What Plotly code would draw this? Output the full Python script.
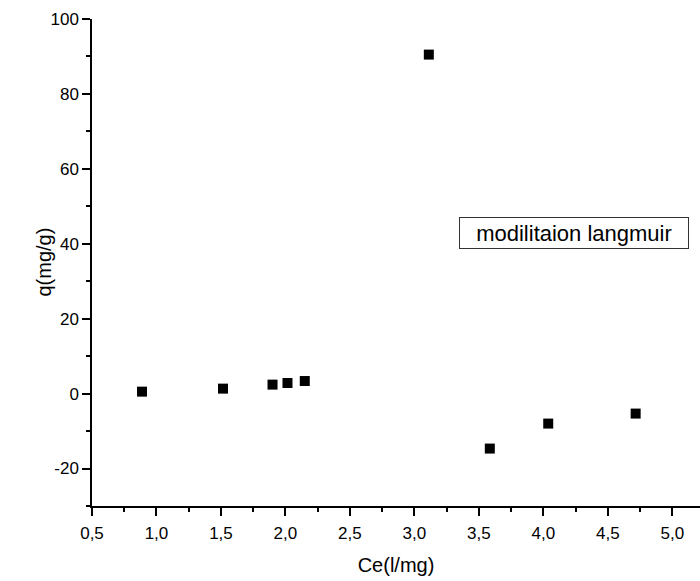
import plotly.graph_objects as go

# Langmuir data: equilibrium concentration vs adsorbed quantity
ce = [0.888, 1.516, 1.900, 2.016, 2.150, 3.112, 3.585, 4.038, 4.716]
q = [0.53, 1.33, 2.40, 2.83, 3.36, 90.5, -14.67, -8.0, -5.33]

# y tick values and their labels (plain hyphen for negatives)
y_tickvals = [-20, 0, 20, 40, 60, 80, 100]
y_ticklabels = ["-20", "0", "20", "40", "60", "80", "100"]

series_name = "modilitaion langmuir"
x_title = "Ce(l/mg)"
y_title = "q(mg/g)"

font_family = "Liberation Sans, Arial, sans-serif"

fig = go.Figure()
fig.add_trace(go.Scatter(
    x=ce, y=q, mode="markers", name=series_name,
    marker=dict(symbol="square", size=10, color="black",
                line=dict(width=0)),
    showlegend=False,
))

axis_common = dict(
    showline=True, linecolor="black", linewidth=1.5,
    ticks="outside", ticklen=8, tickwidth=1.5, tickcolor="black",
    showgrid=False, zeroline=False, mirror=False,
    tickfont=dict(family=font_family, size=17, color="black"),
)

fig.update_layout(
    width=700, height=581,
    margin=dict(l=92, r=0, t=19, b=75),
    paper_bgcolor="white", plot_bgcolor="white",
    separators=",.",
    font=dict(family=font_family, color="black"),
    xaxis=dict(
        range=[0.5, 5.215], tick0=0.5, dtick=0.5, tickformat=".1f",
        minor=dict(ticks="outside", ticklen=4, tickwidth=1.5,
                   tickcolor="black", dtick=0.25, tick0=0.5),
        title=dict(text=x_title, font=dict(family=font_family, size=20),
                   standoff=16),
        ticklabelstandoff=3,
        automargin=False,
        **axis_common,
    ),
    yaxis=dict(
        range=[-30, 100], tickmode="array",
        tickvals=y_tickvals, ticktext=y_ticklabels,
        minor=dict(ticks="outside", ticklen=4, tickwidth=1.5,
                   tickcolor="black", dtick=10, tick0=0),
        automargin=False,
        **axis_common,
    ),
)

# y-axis title placed close to the tick labels
fig.add_annotation(
    x=-49 / 608, y=0.5, xref="paper", yref="paper",
    text=y_title, showarrow=False, textangle=-90,
    xanchor="center", yanchor="middle",
    font=dict(family=font_family, size=20, color="black"),
)

# boxed series label
fig.add_annotation(
    x=4.237, y=43.0, xref="x", yref="y",
    text=series_name, showarrow=False,
    xanchor="center", yanchor="middle",
    font=dict(family=font_family, size=22, color="black"),
    bordercolor="#333333", borderwidth=1, borderpad=2,
    width=224, height=26, bgcolor="white",
)

fig.write_html("out.html")
